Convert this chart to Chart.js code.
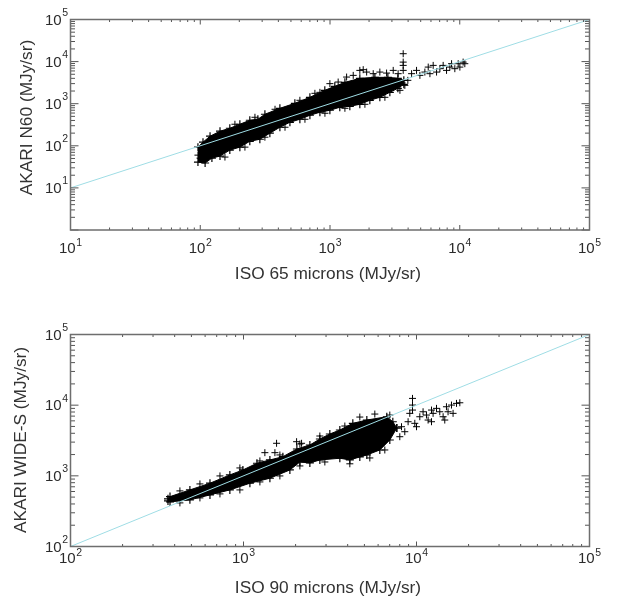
<!DOCTYPE html>
<html><head><meta charset="utf-8">
<script src="https://cdn.jsdelivr.net/npm/chart.js@4.4.0/dist/chart.umd.min.js"></script>
<style>
html,body{margin:0;padding:0;background:#fff;width:618px;height:603px;overflow:hidden}
canvas{position:absolute;left:0;display:block}
#c1{top:0}
#c2{top:300px}
</style></head><body>
<canvas id="c1" width="618" height="300"></canvas>
<canvas id="c2" width="618" height="303"></canvas>
<script>
// ---------- Panel 1: ISO 65 microns vs AKARI N60 ----------
const n60XTitle = 'ISO 65 microns (MJy/sr)';
const n60YTitle = 'AKARI N60 (MJy/sr)';
const n60XRange = [10, 100000];
const n60YRange = [1, 100000];
const n60XTickExp = [1, 2, 3, 4, 5];
const n60YTickExp = [1, 2, 3, 4, 5];
const n60FitX = [10, 100000];
const n60FitY = [10, 100000];
// dense core of the scatter cloud: upper and lower edge
const n60UpperX = [96, 105, 119, 142, 169, 202, 241, 278, 315, 411, 536, 700, 912, 1089, 1303, 1698, 2218, 2793, 3334, 3707];
const n60UpperY = [93, 122, 169, 222, 261, 325, 404, 427, 561, 778, 1022, 1419, 2078, 2585, 3215, 4000, 4225, 4225, 4000, 3589];
const n60LowerX = [96, 109, 123, 142, 169, 202, 241, 288, 344, 411, 491, 586, 700, 836, 998, 1190, 1422, 1698, 2028, 2422, 2893, 3334, 3707];
const n60LowerY = [41, 39, 51, 57, 79, 93, 128, 143, 199, 276, 362, 427, 531, 626, 698, 822, 867, 968, 1205, 1419, 1862, 2317, 2884];
// individual sources outside the dense core
const n60PointsX = [4255, 4645, 4930, 5385, 5715, 5890, 6240, 6625, 7030, 7450, 7910, 8390, 8650, 9165, 9725, 10020, 10620, 10940,
  3665, 3665, 3665, 3665,
  1698, 1803, 1916, 2422, 2730, 3070, 3350, 1343, 1510, 2153, 998, 1156,
  185, 264, 377, 586, 765, 836,
  155, 221, 315, 450, 641, 914, 1303, 1858, 2649, 3459, 3776, 3981,
  99.6, 105, 96];
const n60PointsY = [5165, 6185, 4710, 5640, 7410, 5165, 8130, 5640, 6790, 8130, 6185, 7410, 8920, 6790, 8920, 7410, 9730, 8920,
  15390, 9730, 8130, 6185,
  6185, 6430, 5640, 5640, 5340, 6185, 5165, 4295, 4710, 5165, 2995, 3270,
  325, 476, 737, 1205, 1764, 1862,
  54, 93, 160, 276, 427, 593, 778, 968, 1419, 2078, 2729, 3589,
  51, 46, 60];

// ---------- Panel 2: ISO 90 microns vs AKARI WIDE-S ----------
const wideXTitle = 'ISO 90 microns (MJy/sr)';
const wideYTitle = 'AKARI WIDE-S (MJy/sr)';
const wideXRange = [100, 100000];
const wideYRange = [100, 100000];
const wideXTickExp = [2, 3, 4, 5];
const wideYTickExp = [2, 3, 4, 5];
const wideFitX = [100, 100000];
const wideFitY = [100, 100000];
const wideUpperX = [366, 376, 490, 640, 834, 992, 1196, 1421, 1689, 2035, 2419, 2763, 3155, 3605, 4285, 5163, 6735, 7297, 7695];
const wideUpperY = [472, 508, 632, 786, 1030, 1211, 1507, 1677, 1867, 2399, 2732, 3320, 3907, 4450, 5534, 6158, 6859, 5829, 4750];
const wideLowerX = [366, 376, 490, 640, 834, 1089, 1421, 1854, 2118, 2419, 2763, 3605, 4118, 4703, 5163, 6137, 7010, 7695];
const wideLowerY = [442, 428, 457, 537, 632, 786, 925, 1211, 1571, 1521, 1677, 1773, 1680, 1849, 1974, 2322, 3215, 4750];
const widePointsX = [8008, 8191, 8557, 8942, 9146, 9483, 9483, 9483, 9777, 10450, 10915, 11420, 11670, 12210, 12470, 13050, 13630, 14250, 14900, 15220, 15930, 16270, 17030, 17800, 14570, 12210, 10000,
  1329, 1553, 1519, 2027, 2166,
  429, 560, 731, 953, 1244, 1623, 2118, 2763, 3853, 4703, 5742, 7010,
  429, 560, 731, 953, 1244, 1623, 2118, 2953, 4118, 5374, 6560];
const widePointsY = [3578, 4954, 4210, 5829, 7660, 12470, 10030, 8528, 5534, 6859, 8068, 7248, 6158, 8528, 7660, 9010, 8068, 6859, 9493, 8068, 10030, 7660, 10600, 10810, 6158, 5829, 4954,
  2127, 2887, 2127, 3041, 2887,
  612, 768, 997, 1293, 1624, 1974, 2822, 3661, 5068, 6789, 7487, 7248,
  414, 487, 555, 632, 820, 997, 1380, 1571, 1480, 1790, 2322];

const FONT = "'Liberation Sans', Arial, Helvetica, sans-serif";
const TEXT = '#2b2b2b';

const idlAxes = {
  id: 'idlAxes',
  afterDatasetsDraw(chart, args, o) {
    const ctx = chart.ctx, a = chart.chartArea, xs = chart.scales.x, ys = chart.scales.y;
    ctx.save();
    ctx.strokeStyle = '#555';
    ctx.lineWidth = 1;
    const each = (scale, fn) => {
      const k0 = Math.floor(Math.log10(scale.min)), k1 = Math.ceil(Math.log10(scale.max));
      for (let k = k0; k <= k1; k++) for (let d = 1; d <= 9; d++) {
        const v = d * Math.pow(10, k);
        if (v < scale.min * 0.999 || v > scale.max * 1.001) continue;
        fn(scale.getPixelForValue(v), d === 1);
      }
    };
    ctx.beginPath();
    each(xs, (p, major) => {
      const L = major ? 5 : 2.5;
      ctx.moveTo(p, a.bottom); ctx.lineTo(p, a.bottom - L);
      ctx.moveTo(p, a.top); ctx.lineTo(p, a.top + L);
    });
    each(ys, (p, major) => {
      const L = major ? 8 : 4.5;
      ctx.moveTo(a.left, p); ctx.lineTo(a.left + L, p);
      ctx.moveTo(a.right, p); ctx.lineTo(a.right - L, p);
    });
    ctx.stroke();
    ctx.strokeStyle = '#6e6e6e';
    ctx.lineWidth = 1.5;
    ctx.strokeRect(a.left, a.top, a.right - a.left, a.bottom - a.top);

    ctx.fillStyle = TEXT;
    ctx.textBaseline = 'alphabetic';
    const baseFont = '15px ' + FONT, supFont = '10.5px ' + FONT;
    const measure = (e) => {
      ctx.font = baseFont; const w1 = ctx.measureText('10').width;
      ctx.font = supFont; const w2 = ctx.measureText(String(e)).width;
      return [w1, w2];
    };
    o.xExp.forEach(e => {
      const p = xs.getPixelForValue(Math.pow(10, e));
      const [w1, w2] = measure(e);
      const x0 = p - (w1 + w2 + 0.5) / 2;
      const by = a.bottom + o.xLabelGap;
      ctx.textAlign = 'left';
      ctx.font = baseFont; ctx.fillText('10', x0, by);
      ctx.font = supFont; ctx.fillText(String(e), x0 + w1 + 0.5, by - 7);
    });
    o.yExp.forEach(e => {
      const p = ys.getPixelForValue(Math.pow(10, e));
      const [w1, w2] = measure(e);
      const xr = a.left - 2.5;
      ctx.textAlign = 'left';
      ctx.font = supFont; ctx.fillText(String(e), xr - w2, p - 3.5);
      ctx.font = baseFont; ctx.fillText('10', xr - w2 - 0.5 - w1, p + 5);
    });

    ctx.font = '16px ' + FONT;
    ctx.fillStyle = '#333';
    ctx.textAlign = 'center';
    ctx.save();
    ctx.translate((a.left + a.right) / 2 - 2, o.xTitleY);
    ctx.scale(1.08, 1);
    ctx.fillText(o.xTitle, 0, 0);
    ctx.restore();
    ctx.save();
    ctx.translate(o.yTitleX, o.yTitleCY);
    ctx.rotate(-Math.PI / 2);
    ctx.scale(1.08, 1);
    ctx.fillText(o.yTitle, 0, 0);
    ctx.restore();
    ctx.restore();
  }
};

function pairs(xs, ys) { return xs.map((x, i) => ({x: x, y: ys[i]})); }

function makeChart(id, d) {
  const edge = { pointStyle: 'cross', pointRadius: 4, pointBorderWidth: 1.2,
                 pointBorderColor: '#000', pointBackgroundColor: '#000' };
  return new Chart(document.getElementById(id), {
    type: 'scatter',
    data: {
      datasets: [
        { type: 'line', label: 'y = x', data: pairs(d.fitX, d.fitY), borderColor: '#9fdde5', borderWidth: 1,
          pointRadius: 0, fill: false, order: 0 },
        { label: 'sources', data: pairs(d.ptsX, d.ptsY), pointStyle: 'cross', pointRadius: 3.5,
          borderColor: '#000', backgroundColor: '#000', borderWidth: 1, order: 1 },
        Object.assign({ type: 'line', label: 'core upper', data: pairs(d.upX, d.upY), borderColor: '#000', borderWidth: 1,
          fill: false, order: 3 }, edge),
        Object.assign({ type: 'line', label: 'core lower', data: pairs(d.loX, d.loY), borderColor: '#000', borderWidth: 1,
          fill: '-1', backgroundColor: '#000', order: 2 }, edge)
      ]
    },
    options: {
      responsive: false, animation: false, devicePixelRatio: 1,
      layout: { padding: d.padding },
      plugins: { legend: { display: false }, tooltip: { enabled: false }, idlAxes: d.axes },
      scales: {
        x: { type: 'logarithmic', min: d.xRange[0], max: d.xRange[1], display: false },
        y: { type: 'logarithmic', min: d.yRange[0], max: d.yRange[1], display: false }
      }
    },
    plugins: [idlAxes]
  });
}

makeChart('c1', {
  fitX: n60FitX, fitY: n60FitY, ptsX: n60PointsX, ptsY: n60PointsY,
  upX: n60UpperX, upY: n60UpperY, loX: n60LowerX, loY: n60LowerY,
  xRange: n60XRange, yRange: n60YRange,
  padding: { left: 70.5, right: 28.5, top: 19.5, bottom: 70 },
  axes: { xExp: n60XTickExp, yExp: n60YTickExp, xTitle: n60XTitle, yTitle: n60YTitle,
          xLabelGap: 23, xTitleY: 279, yTitleX: 32, yTitleCY: 117.5 }
});
makeChart('c2', {
  fitX: wideFitX, fitY: wideFitY, ptsX: widePointsX, ptsY: widePointsY,
  upX: wideUpperX, upY: wideUpperY, loX: wideLowerX, loY: wideLowerY,
  xRange: wideXRange, yRange: wideYRange,
  padding: { left: 70.5, right: 28.5, top: 34.5, bottom: 56.5 },
  axes: { xExp: wideXTickExp, yExp: wideYTickExp, xTitle: wideXTitle, yTitle: wideYTitle,
          xLabelGap: 16.5, xTitleY: 293, yTitleX: 26, yTitleCY: 140 }
});
</script>
</body></html>
